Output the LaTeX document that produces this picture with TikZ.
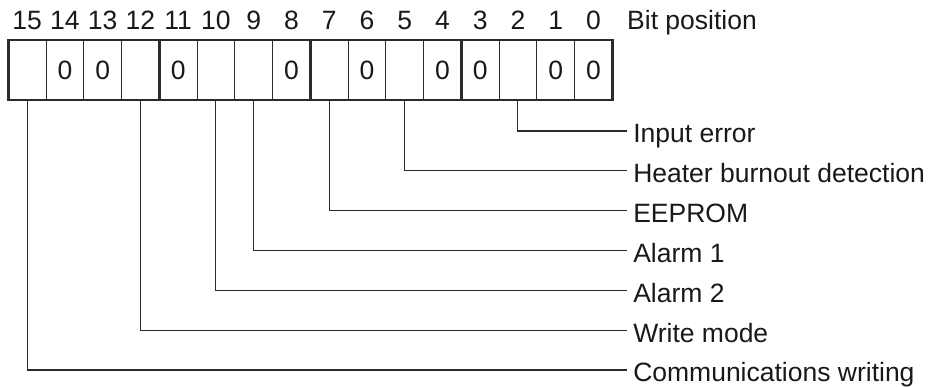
\documentclass[tikz,border=0pt]{standalone}
\usepackage{fontspec}
\setmainfont{Liberation Sans}
\usepackage{xcolor}
\usetikzlibrary{positioning}

\definecolor{ink}{HTML}{2B2B2B}

\begin{document}
\begin{tikzpicture}[
        x=1pt, y=-1pt,
        font=\fontsize{26.5}{30}\selectfont,
        text=black!90,
        cell/.style={
            draw=ink,
            line width=0.9pt,
            minimum width=37.75pt,
            minimum height=60pt,
            inner sep=0pt,
            outer sep=0pt
        },
        nibble/.style={
            draw=ink,
            line width=2.4pt
        },
        lead/.style={
            draw=ink,
            line width=1.1pt
        },
        bitnum/.style={
            inner sep=0pt
        },
        lbl/.style={
            anchor=base west,
            inner sep=0pt,
            xshift=6pt,
            yshift=-12pt
        }
    ]

        \useasboundingbox (0,0) rectangle (928,387);

        % register cells, bit 15 on the left
        \foreach \b/\v in {15/,14/0,13/0,12/,11/0,10/,9/,8/0,7/,6/0,5/,4/0,3/0,2/,1/0,0/0} {
            \node[cell] (c\b) at ({8.3+(15.5-\b)*37.75},70) {\v};
            \node[bitnum, above=10pt of c\b] (n\b) {\b};
        }
        \node[bitnum, base right=26pt of n0] (bitpos) {Bit position};

        % thick frame and nibble separators
        \draw[nibble] (c15.north west) rectangle (c0.south east);
        \foreach \b in {12,8,4}
            \draw[nibble] (c\b.north east) -- (c\b.south east);

        % leaders to the flag names
        \foreach \b/\t [count=\k from 0] in {2/Input error,5/Heater burnout detection,7/EEPROM,9/Alarm 1,10/Alarm 2,12/Write mode,15/Communications writing} {
            \coordinate (e\b) at (626.7,{131+39.83*\k});
            \draw[lead] (c\b.south) |- (e\b) node[lbl] {\t};
        }

    \end{tikzpicture}
\end{document}
